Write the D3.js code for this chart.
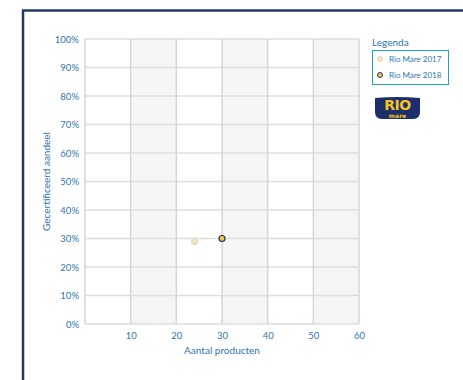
<!DOCTYPE html>
<html>
<head>
<meta charset="utf-8">
<script src="https://cdn.jsdelivr.net/npm/d3@7"></script>
<style>
  body { margin: 0; background: #fff; }
  svg { display: block; font-family: Lato, "Open Sans", sans-serif; }
</style>
</head>
<body>
<div id="chart"></div>
<script>
// Rio Mare scatter: number of products vs certified share
const series = ["Rio Mare 2017", "Rio Mare 2018"];
const products = [24, 30];
const certified = [0.29, 0.30];
const xTicks = [10, 20, 30, 40, 50, 60];
const yTicks = [0, 0.1, 0.2, 0.3, 0.4, 0.5, 0.6, 0.7, 0.8, 0.9, 1];

const width = 463, height = 380;
const margin = {left: 85, right: 104, top: 39, bottom: 56};
const blue = "#2e75b6", navy = "#1f3864";
const fills = ["#fde6a8", "#f5c242"];
const strokes = ["#d6d6d6", navy];

const svg = d3.select("#chart")
  .append("svg")
    .attr("width", width)
    .attr("height", height);

// frame
svg.append("path")
    .attr("d", `M23,${height} V10.5 H${width}`)
    .attr("fill", "none")
    .attr("stroke", navy)
    .attr("stroke-width", 2.5);

const x = d3.scaleLinear()
    .domain([0, 60])
    .range([margin.left, width - margin.right]);
const y = d3.scaleLinear()
    .domain([0, 1])
    .range([height - margin.bottom, margin.top]);

// alternating column bands
svg.append("g")
  .selectAll("rect")
  .data(xTicks.filter((d, i) => i % 2 == 0))
  .enter()
  .append("rect")
    .attr("x", d => x(d))
    .attr("y", y(1))
    .attr("width", d => x(d + 10) - x(d))
    .attr("height", y(0) - y(1))
    .attr("fill", "#f5f5f5");

// grid
svg.append("g")
  .selectAll("line")
  .data(yTicks)
  .enter()
  .append("line")
    .attr("x1", x(0)).attr("x2", x(60))
    .attr("y1", d => y(d)).attr("y2", d => y(d))
    .attr("stroke", "#dedede")
    .attr("stroke-width", 1.5);

svg.append("g")
  .selectAll("line")
  .data([0].concat(xTicks))
  .enter()
  .append("line")
    .attr("x1", d => x(d)).attr("x2", d => x(d))
    .attr("y1", y(0)).attr("y2", y(1))
    .attr("stroke", "#d6d6d6")
    .attr("stroke-width", 1.5);

// axes labels
const xAxis = svg.append("g")
    .attr("transform", `translate(0,${y(0)})`)
    .call(d3.axisBottom(x).tickValues(xTicks).tickSize(0).tickPadding(8));
xAxis.select(".domain").remove();
xAxis.selectAll("text")
    .attr("fill", blue)
    .attr("font-size", "9.5px")
    .attr("font-family", "Lato, sans-serif");

const yAxis = svg.append("g")
    .attr("transform", `translate(${x(0)},0)`)
    .call(d3.axisLeft(y).tickValues(yTicks).tickSize(0).tickPadding(6).tickFormat(d3.format(".0%")));
yAxis.select(".domain").remove();
yAxis.selectAll("text")
    .attr("fill", blue)
    .attr("font-size", "9.5px")
    .attr("font-family", "Lato, sans-serif");

svg.append("text")
    .attr("x", x(30))
    .attr("y", 354)
    .attr("text-anchor", "middle")
    .attr("fill", blue)
    .attr("font-size", "10px")
    .text("Aantal producten");

svg.append("text")
    .attr("transform", `translate(50,${y(0.5)}) rotate(-90)`)
    .attr("text-anchor", "middle")
    .attr("fill", blue)
    .attr("font-size", "10px")
    .text("Gecertificeerd aandeel");

// points
svg.append("g")
  .selectAll("circle")
  .data(series)
  .enter()
  .append("circle")
    .attr("cx", (d, i) => x(products[i]))
    .attr("cy", (d, i) => y(certified[i]))
    .attr("r", 3)
    .attr("fill", (d, i) => fills[i])
    .attr("stroke", (d, i) => strokes[i])
    .attr("stroke-width", 1.2);

// legend
svg.append("text")
    .attr("x", 372)
    .attr("y", 46)
    .attr("fill", blue)
    .attr("font-size", "10px")
    .text("Legenda");

svg.append("rect")
    .attr("x", 372.5).attr("y", 50.5)
    .attr("width", 76).attr("height", 34)
    .attr("fill", "#fff")
    .attr("stroke", "#1ea3cc")
    .attr("stroke-width", 1);

const legend = svg.append("g")
  .selectAll("g")
  .data(series)
  .enter()
  .append("g")
    .attr("transform", (d, i) => `translate(380,${59 + i * 16})`);
legend.append("circle")
    .attr("r", 2.5)
    .attr("fill", (d, i) => fills[i])
    .attr("stroke", (d, i) => strokes[i]);
legend.append("text")
    .attr("x", 9)
    .attr("dy", "0.35em")
    .attr("fill", blue)
    .attr("font-size", "8px")
    .text(d => d);

// Rio Mare logo
const logo = svg.append("g").attr("transform", "translate(374,97)");
logo.append("path")
    .attr("d", "M1,1 Q23,-1 46,1 L46,15 Q46,22 39,22 L8,22 Q1,22 1,15 Z")
    .attr("fill", "#1c2f6b");
logo.append("text")
    .attr("x", 23.5).attr("y", 13)
    .attr("text-anchor", "middle")
    .attr("fill", "#f6c21b")
    .attr("font-size", "14px")
    .attr("font-weight", "900")
    .attr("font-family", "'DejaVu Sans', sans-serif")
    .attr("letter-spacing", "-0.5")
    .text("RIO");
logo.append("text")
    .attr("x", 23.5).attr("y", 20.8)
    .attr("text-anchor", "middle")
    .attr("fill", "#f6c21b")
    .attr("font-size", "6px")
    .attr("font-weight", "bold")
    .attr("font-family", "'DejaVu Sans', sans-serif")
    .text("mare");
</script>
</body>
</html>
